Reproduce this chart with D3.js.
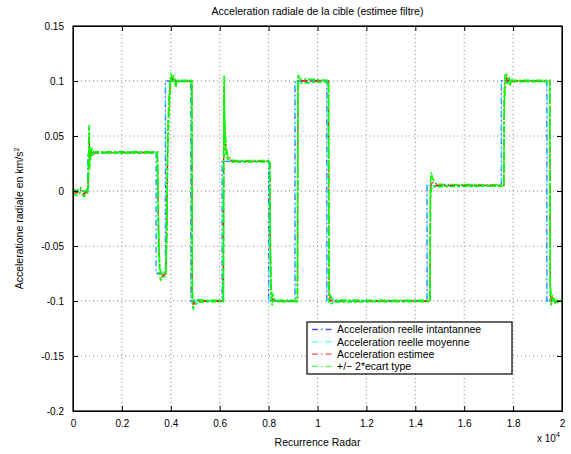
<!DOCTYPE html>
<html>
<head>
<meta charset="utf-8">
<script src="https://cdn.jsdelivr.net/npm/d3@7"></script>
<style>
  html, body { margin: 0; padding: 0; background: #fff; }
  svg { display: block; font-family: "Liberation Sans", Arial, Helvetica, sans-serif; }
</style>
</head>
<body>
<svg id="chart" width="571" height="454"></svg>
<script>
// ---- Data (recurrence index, acceleration km/s^2) ----
const xTicks = [0, 2000, 4000, 6000, 8000, 10000, 12000, 14000, 16000, 18000, 20000];
const xTickLabels = ["0", "0.2", "0.4", "0.6", "0.8", "1", "1.2", "1.4", "1.6", "1.8", "2"];
const yTicks = [0.15, 0.1, 0.05, 0, -0.05, -0.1, -0.15, -0.2];
const yTickLabels = ["0.15", "0.1", "0.05", "0", "-0.05", "-0.1", "-0.15", "-0.2"];

// Instantaneous true acceleration (step changes)
const instTimes  = [0, 600, 3400, 3780, 4820, 6100, 8000, 9080, 10380, 14480, 17520, 19380, 20000];
const instLevels = [0, 0.035, -0.075, 0.1, -0.1, 0.027, -0.1, 0.1, -0.1, 0.005, 0.1, -0.1, -0.1];
// Mean true acceleration
const meanTimes  = [0, 605, 3405, 3785, 4825, 6105, 8005, 9085, 10385, 14485, 17525, 19390, 20000];
const meanLevels = [0, 0.035, -0.074, 0.1, -0.1, 0.027, -0.1, 0.1, -0.1, 0.005, 0.1, -0.1, -0.1];

// Filter estimate and its standard deviation
const estX = [0, 150, 300, 450, 600, 630, 650, 665, 680, 700, 730, 780, 850, 950, 1100, 3450,
  3470, 3500, 3540, 3580, 3640, 3720, 3800, 3840, 3870, 3920, 3960, 3990, 4010, 4060, 4120, 4180, 4200, 4230, 4320, 4860,
  4880, 4920, 5000, 5150, 5500, 6150,
  6165, 6180, 6200, 6230, 6270, 6320, 6400, 6550, 8050,
  8070, 8100, 8150, 8200, 8260, 8350, 9180,
  9200, 9260, 10450,
  10470, 10520, 10600, 10750, 14600,
  14620, 14650, 14700, 14780, 14900, 17620,
  17640, 17680, 17720, 17780, 17850, 17880, 17900, 17950, 19500,
  19520, 19560, 19620, 19700, 19800, 20000];
const estY = [0, -0.002, 0.001, -0.003, 0.0, 0.012, 0.045, 0.05, 0.028, 0.036, 0.031, 0.036, 0.034, 0.035, 0.035, 0.035,
  0.01, -0.04, -0.07, -0.077, -0.078, -0.076, -0.075, -0.03, 0.04, 0.075, 0.09, 0.1, 0.104, 0.101, 0.103, 0.1, 0.095, 0.1, 0.1, 0.1,
  -0.098, -0.103, -0.101, -0.1, -0.1, -0.1,
  0.03, 0.095, 0.06, 0.045, 0.036, 0.031, 0.029, 0.027, 0.027,
  -0.05, -0.092, -0.1, -0.097, -0.1, -0.1, -0.1,
  0.1, 0.1, 0.1,
  -0.095, -0.099, -0.1, -0.1, -0.1,
  0.0, 0.009, 0.008, 0.006, 0.005, 0.005,
  0.085, 0.101, 0.103, 0.1, 0.101, 0.096, 0.1, 0.1, 0.1,
  -0.092, -0.1, -0.097, -0.101, -0.1, -0.1];
const estSig = [0.001, 0.001, 0.001, 0.001, 0.001, 0.004, 0.006, 0.005, 0.004, 0.002, 0.001, 0.001, 0.0005, 0.0004, 0.0003, 0.0003,
  0.004, 0.004, 0.003, 0.002, 0.001, 0.001, 0.001, 0.004, 0.005, 0.004, 0.003, 0.002, 0.001, 0.001, 0.0008, 0.0005, 0.0005, 0.0004, 0.0003, 0.0003,
  0.003, 0.002, 0.001, 0.0005, 0.0003, 0.0003,
  0.006, 0.005, 0.004, 0.003, 0.002, 0.001, 0.0006, 0.0004, 0.0003,
  0.004, 0.003, 0.002, 0.001, 0.0005, 0.0003, 0.0003,
  0.003, 0.001, 0.0003,
  0.003, 0.002, 0.001, 0.0004, 0.0003,
  0.004, 0.004, 0.002, 0.001, 0.0005, 0.0003,
  0.004, 0.003, 0.002, 0.001, 0.0008, 0.0005, 0.0004, 0.0003, 0.0003,
  0.004, 0.002, 0.001, 0.0005, 0.0004, 0.0003];

const legendLabels = ["Acceleration reelle intantannee", "Acceleration reelle moyenne", "Acceleration estimee", "+/\u2212 2*ecart type"];
const legendColors = ["#0000ff", "#00ffff", "#ff0000", "#00ff00"];

// ---- Layout ----
const svg = d3.select("#chart");
const L = 73, R = 562, T = 26, B = 411;
const x = d3.scaleLinear().domain([0, 20000]).range([L, R]);
const y = d3.scaleLinear().domain([-0.2, 0.15]).range([B, T]);
const dash = "6,3,1.5,3";

// Grid
const grid = svg.append("g");
grid.selectAll("line.gx").data(xTicks.slice(1, -1)).enter().append("line")
  .attr("x1", d => x(d)).attr("x2", d => x(d)).attr("y1", T).attr("y2", B)
  .attr("stroke", "#888").attr("stroke-width", 1).attr("stroke-dasharray", "1,3");
grid.selectAll("line.gy").data(yTicks.slice(1, -1)).enter().append("line")
  .attr("y1", d => y(d)).attr("y2", d => y(d)).attr("x1", L).attr("x2", R)
  .attr("stroke", "#888").attr("stroke-width", 1).attr("stroke-dasharray", "1,3");

// Series
const plot = svg.append("g");
const stepLine = d3.line().x(d => x(d[0])).y(d => y(d[1])).curve(d3.curveStepAfter);
const line = d3.line().x(d => x(d[0])).y(d => y(d[1]));

const inst = instTimes.map((t, i) => [t, instLevels[i]]);
const mean = meanTimes.map((t, i) => [t, meanLevels[i]]);
const est = estX.map((t, i) => [t, estY[i]]);
const up = estX.map((t, i) => [t, estY[i] + 2 * estSig[i]]);
const lo = estX.map((t, i) => [t, estY[i] - 2 * estSig[i]]);

plot.append("path").attr("d", stepLine(inst)).attr("fill", "none")
  .attr("stroke", legendColors[0]).attr("stroke-opacity", 0.7).attr("stroke-width", 1.3).attr("stroke-dasharray", dash);
plot.append("path").attr("d", stepLine(mean)).attr("fill", "none")
  .attr("stroke", legendColors[1]).attr("stroke-opacity", 0.7).attr("stroke-width", 1.3).attr("stroke-dasharray", dash);
plot.append("path").attr("d", line(est)).attr("fill", "none")
  .attr("stroke", legendColors[2]).attr("stroke-width", 1.3).attr("stroke-dasharray", dash);
plot.append("path").attr("d", line(up)).attr("fill", "none")
  .attr("stroke", legendColors[3]).attr("stroke-width", 1.6).attr("stroke-dasharray", "7,2,2,2");
plot.append("path").attr("d", line(lo)).attr("fill", "none")
  .attr("stroke", legendColors[3]).attr("stroke-width", 1.6).attr("stroke-dasharray", "5,2,3,2");

// Axes box with inward ticks on all sides
const tickLen = 5;
const axB = svg.append("g").attr("transform", `translate(0,${B})`)
  .call(d3.axisBottom(x).tickValues(xTicks).tickFormat((d, i) => xTickLabels[i]).tickSizeInner(-tickLen).tickSizeOuter(0).tickPadding(9));
const axT = svg.append("g").attr("transform", `translate(0,${T})`)
  .call(d3.axisTop(x).tickValues(xTicks).tickFormat("").tickSizeInner(-tickLen).tickSizeOuter(0));
const axLft = svg.append("g").attr("transform", `translate(${L},0)`)
  .call(d3.axisLeft(y).tickValues(yTicks).tickFormat((d, i) => yTickLabels[i]).tickSizeInner(-tickLen).tickSizeOuter(0).tickPadding(9));
const axRgt = svg.append("g").attr("transform", `translate(${R},0)`)
  .call(d3.axisRight(y).tickValues(yTicks).tickFormat("").tickSizeInner(-tickLen).tickSizeOuter(0));
[axB, axT, axLft, axRgt].forEach(a => {
  a.selectAll(".domain").attr("stroke", "#000").attr("stroke-width", 1);
  a.selectAll(".tick line").attr("stroke", "#000");
  a.selectAll("text").attr("font-size", 10).attr("fill", "#000")
    .attr("font-family", '"Liberation Sans", Arial, Helvetica, sans-serif');
});
svg.append("rect").attr("x", L).attr("y", T).attr("width", R - L).attr("height", B - T)
  .attr("fill", "none").attr("stroke", "#000").attr("stroke-width", 1.2);

// Titles
svg.append("text").attr("x", (L + R) / 2).attr("y", 15).attr("text-anchor", "middle")
  .attr("font-size", 10.5).text("Acceleration radiale de la cible (estimee filtre)");
svg.append("text").attr("x", (L + R) / 2).attr("y", 446).attr("text-anchor", "middle")
  .attr("font-size", 10.5).text("Recurrence Radar");
const yl = svg.append("text").attr("transform", `translate(23,${(T + B) / 2}) rotate(-90)`)
  .attr("text-anchor", "middle").attr("font-size", 10.5);
yl.append("tspan").text("Acceleratione radiale en km/s");
yl.append("tspan").attr("font-size", 7).attr("dy", -4).text("2");
const ex = svg.append("text").attr("x", 537).attr("y", 442).attr("font-size", 10);
ex.append("tspan").text("x 10");
ex.append("tspan").attr("font-size", 7).attr("dy", -5).text("4");

// Legend
const lg = svg.append("g");
lg.append("rect").attr("x", 307).attr("y", 322).attr("width", 205).attr("height", 52)
  .attr("fill", "#fff").attr("stroke", "#000").attr("stroke-width", 1.2);
legendLabels.forEach((lab, i) => {
  const yy = 329.5 + i * 12.3;
  lg.append("line").attr("x1", 312).attr("x2", 334).attr("y1", yy).attr("y2", yy)
    .attr("stroke", legendColors[i]).attr("stroke-opacity", 0.7).attr("stroke-width", 1.3).attr("stroke-dasharray", dash);
  lg.append("text").attr("x", 337).attr("y", yy + 3.8).attr("font-size", 10.5).text(lab);
});
</script>
</body>
</html>
